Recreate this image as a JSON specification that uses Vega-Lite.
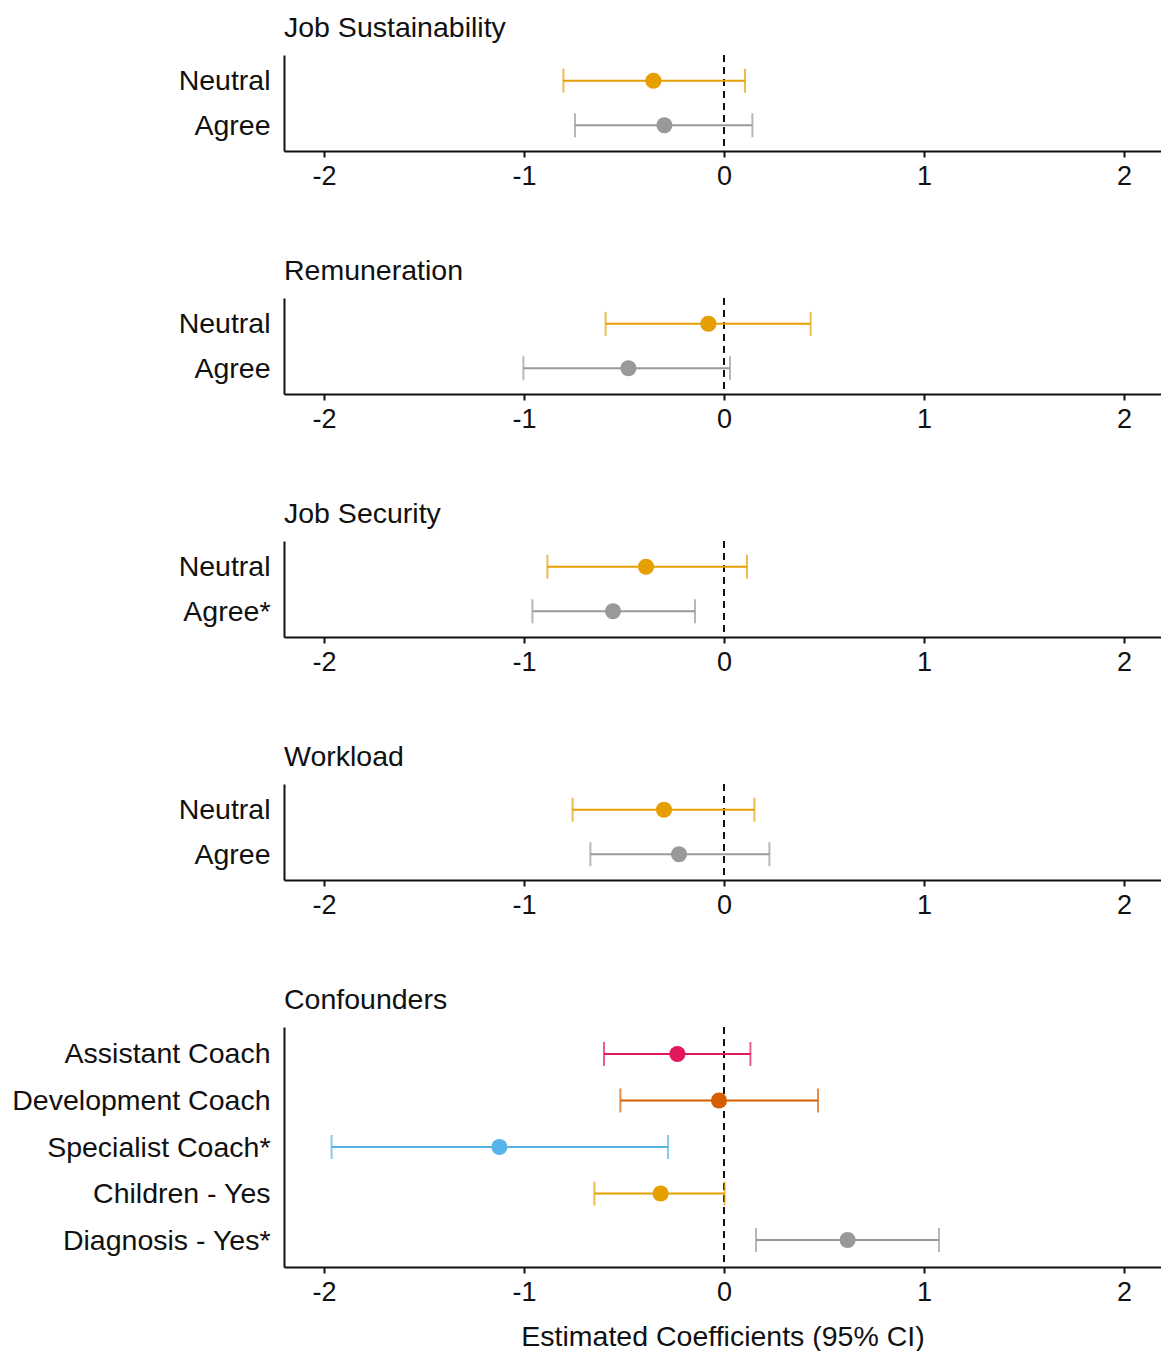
{
  "$schema": "https://vega.github.io/schema/vega-lite/v6.json",
  "background": "white",
  "padding": {"top": 13, "left": 0, "right": 0, "bottom": 0},
  "spacing": 67,
  "config": {
    "font": "Liberation Sans",
    "view": {"stroke": null},
    "title": {"anchor": "start", "frame": "group", "fontSize": 28.5, "fontWeight": "normal", "color": "#111111", "baseline": "alphabetic", "offset": 12},
    "axisX": {
      "domainColor": "#111111", "domainWidth": 2, "tickColor": "#111111", "tickWidth": 2, "tickSize": 6,
      "labelFontSize": 27, "labelColor": "#111111", "labelPadding": 6, "grid": false,
      "labelFlush": false, "labelOverlap": false,
      "titleFontSize": 28.5, "titleFontWeight": "normal", "titleColor": "#111111", "titlePadding": 17
    },
    "axisY": {
      "domainColor": "#111111", "domainWidth": 2, "ticks": false, "labelFontSize": 28.5, "labelColor": "#111111",
      "labelPadding": 14, "grid": false, "minExtent": 284, "maxExtent": 284, "labelLimit": 300
    }
  },
  "datasets": {
    "coef": [
      {"panel": "Job Sustainability", "term": "Neutral", "est": -0.353, "lo": -0.803, "hi": 0.105},
      {"panel": "Job Sustainability", "term": "Agree", "est": -0.298, "lo": -0.745, "hi": 0.142},
      {"panel": "Remuneration", "term": "Neutral", "est": -0.078, "lo": -0.592, "hi": 0.433},
      {"panel": "Remuneration", "term": "Agree", "est": -0.478, "lo": -1.003, "hi": 0.03},
      {"panel": "Job Security", "term": "Neutral", "est": -0.39, "lo": -0.883, "hi": 0.115},
      {"panel": "Job Security", "term": "Agree*", "est": -0.555, "lo": -0.958, "hi": -0.145},
      {"panel": "Workload", "term": "Neutral", "est": -0.3, "lo": -0.757, "hi": 0.152},
      {"panel": "Workload", "term": "Agree", "est": -0.225, "lo": -0.668, "hi": 0.227},
      {"panel": "Confounders", "term": "Assistant Coach", "est": -0.233, "lo": -0.6, "hi": 0.132},
      {"panel": "Confounders", "term": "Development Coach", "est": -0.025, "lo": -0.518, "hi": 0.47},
      {"panel": "Confounders", "term": "Specialist Coach*", "est": -1.123, "lo": -1.962, "hi": -0.28},
      {"panel": "Confounders", "term": "Children - Yes", "est": -0.317, "lo": -0.648, "hi": 0.003},
      {"panel": "Confounders", "term": "Diagnosis - Yes*", "est": 0.618, "lo": 0.16, "hi": 1.075}
    ],
    "zero": [{"ref": 0}]
  },
  "vconcat": [
    {
      "title": "Job Sustainability",
      "width": 877, "height": 96,
      "layer": [
        {"data": {"name": "zero"}, "mark": {"type": "rule", "color": "#111111", "strokeWidth": 2, "strokeDash": [7, 5]},
         "encoding": {"x": {"field": "ref", "type": "quantitative", "scale": {"domain": [-2.2, 2.185], "nice": false, "zero": false},
           "axis": {"title": null, "values": [-2, -1, 0, 1, 2], "labelExpr": "'' + datum.value"}}}},
        {"data": {"name": "coef"}, "transform": [{"filter": "datum.panel === 'Job Sustainability'"}],
         "layer": [
           {"mark": {"type": "rule", "strokeWidth": 2}, "encoding": {"x": {"field": "lo", "type": "quantitative"}, "x2": {"field": "hi"}}},
           {"mark": {"type": "tick", "thickness": 2, "size": 24}, "encoding": {"x": {"field": "lo", "type": "quantitative"}}},
           {"mark": {"type": "tick", "thickness": 2, "size": 24}, "encoding": {"x": {"field": "hi", "type": "quantitative"}}},
           {"mark": {"type": "point", "filled": true, "opacity": 1, "size": 260}, "encoding": {"x": {"field": "est", "type": "quantitative"}}}
         ],
         "encoding": {
           "y": {"field": "term", "type": "nominal", "sort": null, "title": null, "scale": {"type": "point", "padding": 0.58}},
           "color": {"field": "term", "type": "nominal", "legend": null,
             "scale": {"domain": ["Neutral", "Agree", "Agree*", "Assistant Coach", "Development Coach", "Specialist Coach*", "Children - Yes", "Diagnosis - Yes*"],
                       "range": ["#E69F00", "#999999", "#999999", "#E3175E", "#D55E00", "#56B4E9", "#E69F00", "#999999"]}}
         }}
      ]
    },
    {
      "title": "Remuneration",
      "width": 877, "height": 96,
      "layer": [
        {"data": {"name": "zero"}, "mark": {"type": "rule", "color": "#111111", "strokeWidth": 2, "strokeDash": [7, 5]},
         "encoding": {"x": {"field": "ref", "type": "quantitative", "scale": {"domain": [-2.2, 2.185], "nice": false, "zero": false},
           "axis": {"title": null, "values": [-2, -1, 0, 1, 2], "labelExpr": "'' + datum.value"}}}},
        {"data": {"name": "coef"}, "transform": [{"filter": "datum.panel === 'Remuneration'"}],
         "layer": [
           {"mark": {"type": "rule", "strokeWidth": 2}, "encoding": {"x": {"field": "lo", "type": "quantitative"}, "x2": {"field": "hi"}}},
           {"mark": {"type": "tick", "thickness": 2, "size": 24}, "encoding": {"x": {"field": "lo", "type": "quantitative"}}},
           {"mark": {"type": "tick", "thickness": 2, "size": 24}, "encoding": {"x": {"field": "hi", "type": "quantitative"}}},
           {"mark": {"type": "point", "filled": true, "opacity": 1, "size": 260}, "encoding": {"x": {"field": "est", "type": "quantitative"}}}
         ],
         "encoding": {
           "y": {"field": "term", "type": "nominal", "sort": null, "title": null, "scale": {"type": "point", "padding": 0.58}},
           "color": {"field": "term", "type": "nominal", "legend": null,
             "scale": {"domain": ["Neutral", "Agree", "Agree*", "Assistant Coach", "Development Coach", "Specialist Coach*", "Children - Yes", "Diagnosis - Yes*"],
                       "range": ["#E69F00", "#999999", "#999999", "#E3175E", "#D55E00", "#56B4E9", "#E69F00", "#999999"]}}
         }}
      ]
    },
    {
      "title": "Job Security",
      "width": 877, "height": 96,
      "layer": [
        {"data": {"name": "zero"}, "mark": {"type": "rule", "color": "#111111", "strokeWidth": 2, "strokeDash": [7, 5]},
         "encoding": {"x": {"field": "ref", "type": "quantitative", "scale": {"domain": [-2.2, 2.185], "nice": false, "zero": false},
           "axis": {"title": null, "values": [-2, -1, 0, 1, 2], "labelExpr": "'' + datum.value"}}}},
        {"data": {"name": "coef"}, "transform": [{"filter": "datum.panel === 'Job Security'"}],
         "layer": [
           {"mark": {"type": "rule", "strokeWidth": 2}, "encoding": {"x": {"field": "lo", "type": "quantitative"}, "x2": {"field": "hi"}}},
           {"mark": {"type": "tick", "thickness": 2, "size": 24}, "encoding": {"x": {"field": "lo", "type": "quantitative"}}},
           {"mark": {"type": "tick", "thickness": 2, "size": 24}, "encoding": {"x": {"field": "hi", "type": "quantitative"}}},
           {"mark": {"type": "point", "filled": true, "opacity": 1, "size": 260}, "encoding": {"x": {"field": "est", "type": "quantitative"}}}
         ],
         "encoding": {
           "y": {"field": "term", "type": "nominal", "sort": null, "title": null, "scale": {"type": "point", "padding": 0.58}},
           "color": {"field": "term", "type": "nominal", "legend": null,
             "scale": {"domain": ["Neutral", "Agree", "Agree*", "Assistant Coach", "Development Coach", "Specialist Coach*", "Children - Yes", "Diagnosis - Yes*"],
                       "range": ["#E69F00", "#999999", "#999999", "#E3175E", "#D55E00", "#56B4E9", "#E69F00", "#999999"]}}
         }}
      ]
    },
    {
      "title": "Workload",
      "width": 877, "height": 96,
      "layer": [
        {"data": {"name": "zero"}, "mark": {"type": "rule", "color": "#111111", "strokeWidth": 2, "strokeDash": [7, 5]},
         "encoding": {"x": {"field": "ref", "type": "quantitative", "scale": {"domain": [-2.2, 2.185], "nice": false, "zero": false},
           "axis": {"title": null, "values": [-2, -1, 0, 1, 2], "labelExpr": "'' + datum.value"}}}},
        {"data": {"name": "coef"}, "transform": [{"filter": "datum.panel === 'Workload'"}],
         "layer": [
           {"mark": {"type": "rule", "strokeWidth": 2}, "encoding": {"x": {"field": "lo", "type": "quantitative"}, "x2": {"field": "hi"}}},
           {"mark": {"type": "tick", "thickness": 2, "size": 24}, "encoding": {"x": {"field": "lo", "type": "quantitative"}}},
           {"mark": {"type": "tick", "thickness": 2, "size": 24}, "encoding": {"x": {"field": "hi", "type": "quantitative"}}},
           {"mark": {"type": "point", "filled": true, "opacity": 1, "size": 260}, "encoding": {"x": {"field": "est", "type": "quantitative"}}}
         ],
         "encoding": {
           "y": {"field": "term", "type": "nominal", "sort": null, "title": null, "scale": {"type": "point", "padding": 0.58}},
           "color": {"field": "term", "type": "nominal", "legend": null,
             "scale": {"domain": ["Neutral", "Agree", "Agree*", "Assistant Coach", "Development Coach", "Specialist Coach*", "Children - Yes", "Diagnosis - Yes*"],
                       "range": ["#E69F00", "#999999", "#999999", "#E3175E", "#D55E00", "#56B4E9", "#E69F00", "#999999"]}}
         }}
      ]
    },
    {
      "title": "Confounders",
      "width": 877, "height": 240,
      "layer": [
        {"data": {"name": "zero"}, "mark": {"type": "rule", "color": "#111111", "strokeWidth": 2, "strokeDash": [7, 5]},
         "encoding": {"x": {"field": "ref", "type": "quantitative", "scale": {"domain": [-2.2, 2.185], "nice": false, "zero": false},
           "axis": {"title": "Estimated Coefficients (95% CI)", "values": [-2, -1, 0, 1, 2], "labelExpr": "'' + datum.value"}}}},
        {"data": {"name": "coef"}, "transform": [{"filter": "datum.panel === 'Confounders'"}],
         "layer": [
           {"mark": {"type": "rule", "strokeWidth": 2}, "encoding": {"x": {"field": "lo", "type": "quantitative"}, "x2": {"field": "hi"}}},
           {"mark": {"type": "tick", "thickness": 2, "size": 24}, "encoding": {"x": {"field": "lo", "type": "quantitative"}}},
           {"mark": {"type": "tick", "thickness": 2, "size": 24}, "encoding": {"x": {"field": "hi", "type": "quantitative"}}},
           {"mark": {"type": "point", "filled": true, "opacity": 1, "size": 260}, "encoding": {"x": {"field": "est", "type": "quantitative"}}}
         ],
         "encoding": {
           "y": {"field": "term", "type": "nominal", "sort": null, "title": null, "scale": {"type": "point", "padding": 0.58}},
           "color": {"field": "term", "type": "nominal", "legend": null,
             "scale": {"domain": ["Neutral", "Agree", "Agree*", "Assistant Coach", "Development Coach", "Specialist Coach*", "Children - Yes", "Diagnosis - Yes*"],
                       "range": ["#E69F00", "#999999", "#999999", "#E3175E", "#D55E00", "#56B4E9", "#E69F00", "#999999"]}}
         }}
      ]
    }
  ]
}
